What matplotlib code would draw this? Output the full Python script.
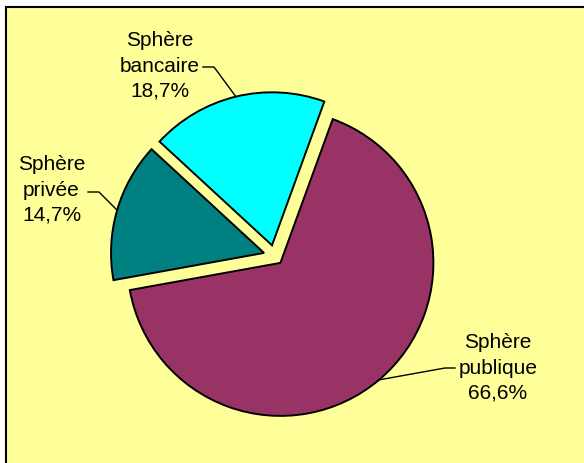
import matplotlib.pyplot as plt
import numpy as np
from matplotlib.patches import Rectangle

plt.rcParams['font.family'] = ['Liberation Sans', 'DejaVu Sans']

# data
labels = ["Sphère\npublique", "Sphère\nprivée", "Sphère\nbancaire"]
shares = [66.6, 14.7, 18.7]
colors = ["#993366", "#008080", "#00FFFF"]

W, H = 584, 463
fig = plt.figure(figsize=(W / 100, H / 100), dpi=100)
fig.patch.set_facecolor("white")

# work in pixel coordinates (y up)
ax = fig.add_axes([0, 0, 1, 1])

# explode is in axis units here (pixels), radius too
wedges, _ = ax.pie(shares, colors=colors, startangle=70, counterclock=False,
                   explode=[9, 11, 11], center=(274.6, H - 256),
                   radius=153, frame=True,
                   wedgeprops=dict(edgecolor="black", linewidth=1.4))
ax.set_xlim(0, W)
ax.set_ylim(0, H)
ax.set_aspect("equal")
ax.axis("off")

# chart area frame (runs off the right and bottom edges)
ax.add_patch(Rectangle((6, -10), W + 10, H - 7 + 10, facecolor="#FFFF99",
                       edgecolor="black", linewidth=1.5, zorder=0))

# label text position, elbow of leader line (pixel coords, y down)
label_pos = [(498, 368), (51.5, 190), (160, 66)]
elbows = [((445, 368), (455, 368)), ((99, 192), (88, 192)), ((214, 67), (203, 67))]

for w, lab, val, (tx, ty), (e1, e2) in zip(wedges, labels, shares, label_pos, elbows):
    mid = np.deg2rad((w.theta1 + w.theta2) / 2)
    cx, cy = w.center
    px = cx + w.r * np.cos(mid)
    py = cy + w.r * np.sin(mid)
    ax.plot([px, e1[0], e2[0]], [py, H - e1[1], H - e2[1]], color="black",
            linewidth=1.0, zorder=3)
    ax.text(tx, H - ty, f"{lab}\n{val:.1f}%".replace(".", ","), ha="center",
            va="center", multialignment="center", fontsize=15,
            linespacing=1.4, color="black")

fig.savefig("out.png", dpi=100)
